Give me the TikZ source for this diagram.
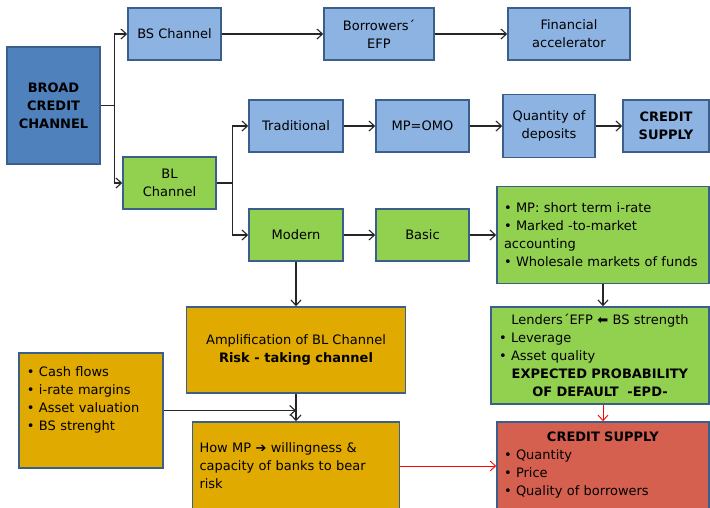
\documentclass[tikz,border=0pt]{standalone}
\usepackage{fontspec}
\setmainfont{DejaVu Sans}
\usepackage{tikz}
\usetikzlibrary{calc}
\usetikzlibrary{arrows.meta}
\definecolor{boxline}{HTML}{3A5F8B}
\definecolor{deepblue}{HTML}{4F81BD}
\definecolor{paleblue}{HTML}{8DB3E2}
\definecolor{leafgreen}{HTML}{92D050}
\definecolor{amber}{HTML}{E0AA00}
\definecolor{brick}{HTML}{D6604F}
\newcommand{\lft}[1]{\makebox[\linewidth][l]{#1}}
\pgfkeys{tikz/chanbox/.style={draw=boxline,line width=1.5pt,align=center,inner sep=0pt,font=\fontsize{13pt}{18pt}\selectfont}}
\pgfkeys{tikz/listbox/.style={chanbox,align=left,inner xsep=7pt}}
\pgfkeys{tikz/bold/.style={font=\fontsize{13pt}{18pt}\selectfont\bfseries}}
\pgfkeys{tikz/link/.style={->,line width=1.1pt,black!85}}
\pgfkeys{tikz/redlink/.style={->,line width=0.9pt,red}}

\begin{document}
\begin{tikzpicture}[x=1pt,y=-1pt,>={Straight Barb[length=5.5pt,width=10pt]}]
    \clip (0,0) rectangle (710,507);
    \node[chanbox,bold,fill=deepblue,minimum width=93pt,minimum height=117pt] (broad) at (53.5,105.5) {BROAD\\CREDIT\\CHANNEL};
    \node[chanbox,fill=paleblue,minimum width=93pt,minimum height=52pt] (bs) at (174.5,34) {BS Channel};
    \node[chanbox,fill=paleblue,minimum width=110pt,minimum height=52pt] (efp) at (379,34) {Borrowers´\\EFP};
    \node[chanbox,fill=paleblue,minimum width=122pt,minimum height=52pt] (accel) at (569,34) {Financial\\accelerator};
    \node[chanbox,fill=leafgreen,minimum width=93pt,minimum height=52pt] (bl) at (169.5,183) {BL\\Channel};
    \node[chanbox,fill=paleblue,minimum width=94pt,minimum height=52pt] (trad) at (296,126) {Traditional};
    \node[chanbox,fill=paleblue,minimum width=93pt,minimum height=52pt] (omo) at (422.5,126) {MP=OMO};
    \node[chanbox,fill=paleblue,minimum width=92pt,minimum height=63pt] (depo) at (549,126) {Quantity of\\deposits};
    \node[chanbox,bold,fill=paleblue,minimum width=86pt,minimum height=52pt] (supply) at (666,126) {CREDIT\\SUPPLY};
    \node[chanbox,fill=leafgreen,minimum width=94pt,minimum height=52pt] (modern) at (296,235) {Modern};
    \node[chanbox,fill=leafgreen,minimum width=93pt,minimum height=52pt] (basic) at (422.5,235) {Basic};
    \node[listbox,fill=leafgreen,text width=198pt,minimum height=97pt] (mp) at (603,235) {• MP: short term i-rate\\• Marked -to-market\\accounting\\• Wholesale markets of funds};
    \node[chanbox,fill=leafgreen,text width=202pt,inner xsep=8pt,minimum height=97pt] (lend) at (600,355.5) {Lenders´EFP ⬅ BS strength\\\lft{• Leverage}\\\lft{• Asset quality}\\\textbf{EXPECTED PROBABILITY}\\\textbf{OF DEFAULT~ -EPD-}};
    \node[chanbox,fill=amber,minimum width=219pt,minimum height=86pt] (ampl) at (296,350) {Amplification of BL Channel\\\textbf{Risk - taking channel}};
    \node[listbox,fill=amber,text width=128pt,inner xsep=8pt,minimum height=115pt] (cash) at (91,410.5) {• Cash flows\\• i-rate margins\\• Asset valuation\\• BS strenght\\\strut};
    \node[listbox,fill=amber,text width=193pt,minimum height=88pt] (how) at (296,466) {How MP ➔ willingness \&\\capacity of banks to bear\\risk};
    \node[chanbox,fill=brick,text width=198pt,inner xsep=7pt,minimum height=87pt] (credit) at (603,465.5) {\textbf{CREDIT SUPPLY}\\\lft{• Quantity}\\\lft{• Price}\\\lft{• Quality of borrowers}};
    % broad channel split
    \coordinate (split1) at ($(broad.east)+(14,0)$);
    \draw[link,-] (broad.east) -- (split1);
    \draw[link] (split1) |- (bs.west);
    \draw[link] (split1) |- (bl.west);
    \draw[link] (bs) -- (efp);
    \draw[link] (efp) -- (accel);
    % bank lending split
    \coordinate (split2) at ($(bl.east)+(16,0)$);
    \draw[link,-] (bl.east) -- (split2);
    \draw[link] (split2) |- (trad.west);
    \draw[link] (split2) |- (modern.west);
    \draw[link] (trad) -- (omo);
    \draw[link] (omo) -- (depo);
    \draw[link] (depo) -- (supply);
    \draw[link] (modern) -- (basic);
    \draw[link] (basic) -- (mp);
    \draw[link] (modern) -- (ampl);
    \draw[link] (mp.south) -- (mp.south |- lend.north);
    \draw[link] (ampl) -- (how);
    \coordinate (meet) at (ampl.south |- cash.east);
    \draw[link] (cash.east) -- (meet);
    \draw[redlink] (credit.north |- lend.south) -- (credit.north);
    \draw[redlink] (how.east) -- (credit.west |- how.east);
\end{tikzpicture}
\end{document}
